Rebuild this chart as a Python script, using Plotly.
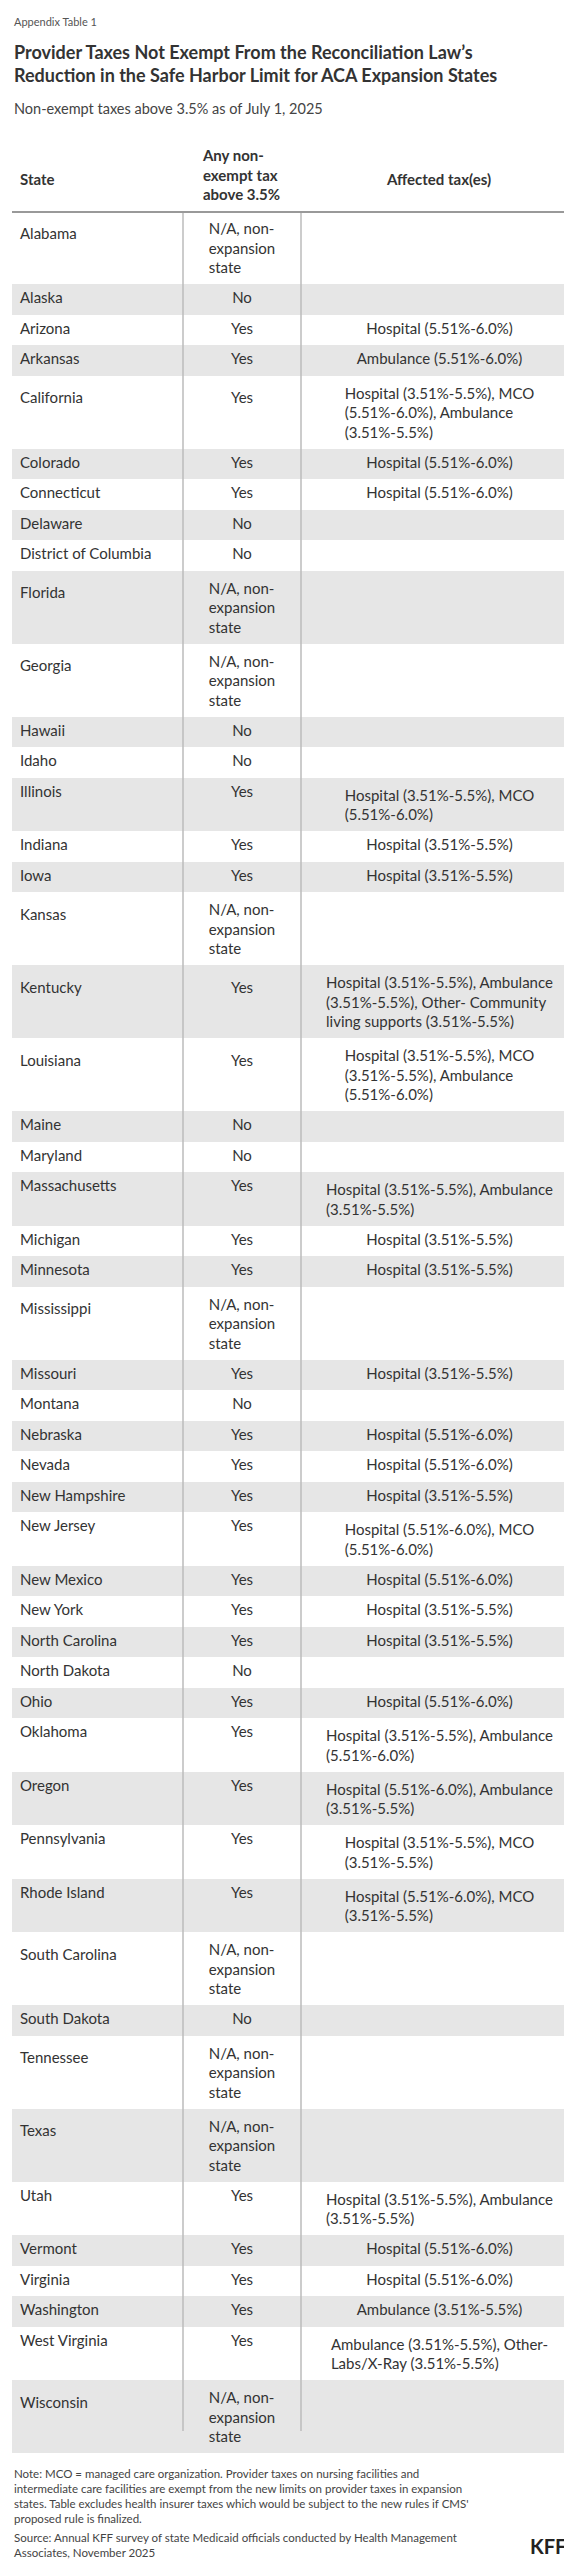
import plotly.graph_objects as go

states = ["Alabama","Alaska","Arizona","Arkansas","California","Colorado","Connecticut","Delaware",
"District of Columbia","Florida","Georgia","Hawaii","Idaho","Illinois","Indiana","Iowa","Kansas",
"Kentucky","Louisiana","Maine","Maryland","Massachusetts","Michigan","Minnesota","Mississippi",
"Missouri","Montana","Nebraska","Nevada","New Hampshire","New Jersey","New Mexico","New York",
"North Carolina","North Dakota","Ohio","Oklahoma","Oregon","Pennsylvania","Rhode Island",
"South Carolina","South Dakota","Tennessee","Texas","Utah","Vermont","Virginia","Washington",
"West Virginia","Wisconsin","Wyoming"]

NA = "N/A, non-<br>expansion<br>state"
status = [NA,"No","Yes","Yes","Yes","Yes","Yes","No","No",NA,NA,"No","No","Yes","Yes","Yes",NA,
"Yes","Yes","No","No","Yes","Yes","Yes",NA,"Yes","No","Yes","Yes","Yes","Yes","Yes","Yes","Yes",
"No","Yes","Yes","Yes","Yes","Yes",NA,"No",NA,NA,"Yes","Yes","Yes","Yes","Yes",NA,NA]

H1 = "Hospital (3.51%-5.5%)"
H2 = "Hospital (5.51%-6.0%)"
affected = ["","","Hospital (5.51%-6.0%)","Ambulance (5.51%-6.0%)",
"Hospital (3.51%-5.5%), MCO<br>(5.51%-6.0%), Ambulance<br>(3.51%-5.5%)",
H2,H2,"","","","","","",
"Hospital (3.51%-5.5%), MCO<br>(5.51%-6.0%)",H1,H1,"",
"Hospital (3.51%-5.5%), Ambulance<br>(3.51%-5.5%), Other- Community<br>living supports (3.51%-5.5%)",
"Hospital (3.51%-5.5%), MCO<br>(3.51%-5.5%), Ambulance<br>(5.51%-6.0%)",
"","","Hospital (3.51%-5.5%), Ambulance<br>(3.51%-5.5%)",H1,H1,"",H1,"",H2,H2,H1,
"Hospital (5.51%-6.0%), MCO<br>(5.51%-6.0%)",H2,H1,H1,"",H2,
"Hospital (3.51%-5.5%), Ambulance<br>(5.51%-6.0%)",
"Hospital (5.51%-6.0%), Ambulance<br>(3.51%-5.5%)",
"Hospital (3.51%-5.5%), MCO<br>(3.51%-5.5%)",
"Hospital (5.51%-6.0%), MCO<br>(3.51%-5.5%)",
"","","","","Hospital (3.51%-5.5%), Ambulance<br>(3.51%-5.5%)",H2,H2,"Ambulance (3.51%-5.5%)",
"Ambulance (3.51%-5.5%), Other-<br>Labs/X-Ray (3.51%-5.5%)","",""]

headers = ["<br><br><b>State</b>","<b>Any non-<br>exempt tax<br>above 3.5%</b>","<br><br><b>Affected tax(es)</b>"]

W, Hgt = 572, 2560
c1, c2, c3 = [], [], []
fills = []
for i, (s, st, af) in enumerate(zip(states, status, affected)):
    n = max(st.count("<br>"), af.count("<br>")) + 1
    pad = "<br>" if n == 3 else ""
    c1.append(pad + s)
    c2.append(st if st.count("<br>") == 2 else (pad + st))
    c3.append(af)
    fills.append("#e6e6e6" if i % 2 == 1 else "white")

fig = go.Figure(go.Table(
    domain=dict(x=[4/W, 570/W], y=[1-2450/Hgt, 1-130/Hgt]),
    columnwidth=[171, 118, 277],
    header=dict(values=headers, align=["left","center","center"], height=24,
                fill_color="white", line=dict(width=0, color="white"),
                font=dict(family="Lato", size=15, color="#333")),
    cells=dict(values=[c1, c2, c3], align=["left","center","center"], height=30.5,
               fill_color=[fills, fills, fills], line=dict(width=0, color="white"),
               font=dict(family="Lato", size=15, color="#333")),
))

shapes = [dict(type="line", xref="paper", yref="paper", x0=4/W, x1=570/W, y0=1-204/Hgt, y1=1-204/Hgt,
               line=dict(color="#999", width=2))]
for xv in (175, 293):
    shapes.append(dict(type="line", xref="paper", yref="paper", x0=xv/W, x1=xv/W,
                       y0=1-2423/Hgt, y1=1-205/Hgt, line=dict(color="#bbb", width=1.5), layer="above"))

ann = [
 dict(text="Appendix Table 1", x=4/W, y=1-13/Hgt, size=11, color="#555"),
 dict(text="<b>Provider Taxes Not Exempt From the Reconciliation Law’s<br>Reduction in the Safe Harbor Limit for ACA Expansion States</b>",
      x=4/W, y=1-55/Hgt, size=18, color="#333"),
 dict(text="Non-exempt taxes above 3.5% as of July 1, 2025", x=4/W, y=1-100/Hgt, size=14.5, color="#444"),
 dict(text="Note: MCO = managed care organization. Provider taxes on nursing facilities and<br>intermediate care facilities are exempt from the new limits on provider taxes in expansion<br>states. Table excludes health insurer taxes which would be subject to the new rules if CMS'<br>proposed rule is finalized.",
      x=4/W, y=1-2488/Hgt, size=11.5, color="#444"),
 dict(text="Source: Annual KFF survey of state Medicaid officials conducted by Health Management<br>Associates, November 2025",
      x=4/W, y=1-2537/Hgt, size=11.5, color="#444"),
]
annotations = []
for a in ann:
    annotations.append(dict(text=a["text"], x=a["x"], y=a["y"], xref="paper", yref="paper",
                            xanchor="left", yanchor="middle", align="left", showarrow=False,
                            font=dict(family="Lato", size=a["size"], color=a["color"])))
annotations.append(dict(text="<b>KFF</b>", x=560/W, y=1-2538/Hgt, xref="paper", yref="paper",
                        xanchor="right", yanchor="middle", showarrow=False,
                        font=dict(family="Lato", size=20, color="#222")))

fig.update_layout(width=W, height=Hgt, margin=dict(l=0, r=0, t=0, b=0),
                  paper_bgcolor="white", shapes=shapes, annotations=annotations)
fig.write_html("out.html")
